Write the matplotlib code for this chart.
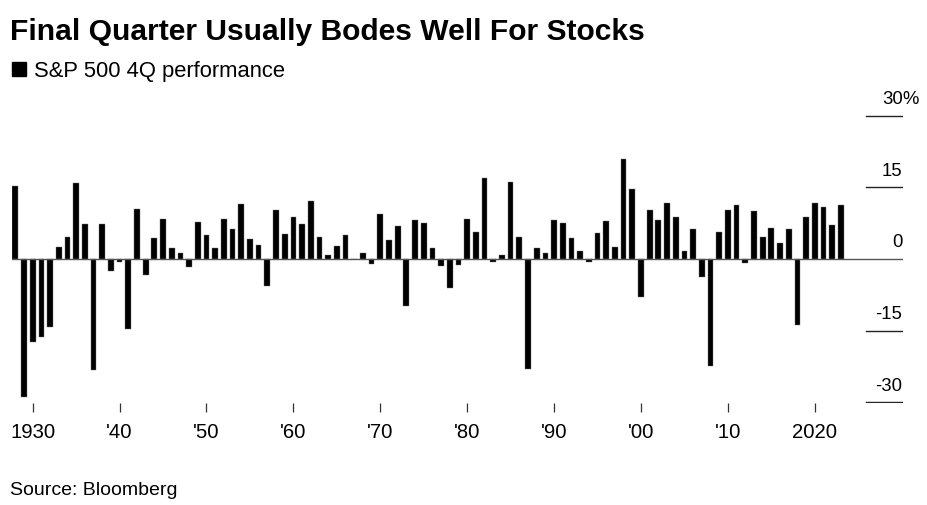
import matplotlib
matplotlib.use("Agg")
import matplotlib.pyplot as plt
import numpy as np

years = list(range(1928, 2024))
perf = [
    15.3, -28.8, -17.4, -16.3, -14.2, 2.6, 4.7, 16.0, 7.4, -23.3,   # 1928-1937
    7.4, -2.6, -0.7, -14.7, 10.5, -3.3, 4.3, 8.3, 2.3, 1.3,        # 1938-1947
    -1.7, 7.8, 5.1, 2.3, 8.3, 6.3, 11.5, 4.2, 3.0, -5.6,           # 1948-1957
    10.3, 5.3, 8.7, 7.3, 12.2, 4.7, 0.8, 2.8, 5.0, 0.1,            # 1958-1967
    1.2, -1.0, 9.5, 4.0, 6.9, -9.9, 8.1, 7.6, 2.3, -1.4,           # 1968-1977
    -6.1, -1.2, 8.3, 5.6, 16.9, -0.6, 0.8, 16.2, 4.7, -23.1,       # 1978-1987
    2.3, 1.3, 8.1, 7.6, 4.4, 1.7, -0.7, 5.5, 7.9, 2.5,             # 1988-1997
    21.0, 14.6, -8.0, 10.3, 8.1, 11.7, 8.8, 1.7, 6.3, -3.8,        # 1998-2007
    -22.4, 5.6, 10.3, 11.2, -0.9, 10.0, 4.5, 6.5, 3.3, 6.2,        # 2008-2017
    -13.8, 8.7, 11.8, 10.8, 7.2, 11.3,                             # 2018-2023
]
xtick_years = [1930, 1940, 1950, 1960, 1970, 1980, 1990, 2000, 2010, 2020]
xtick_labels = ["1930", "'40", "'50", "'60", "'70", "'80", "'90", "'00", "'10", "2020"]
ytick_vals = [30, 15, 0, -15, -30]
ytick_labels = ["30", "15", "0", "-15", "-30"]

plt.rcParams['font.family'] = ['Liberation Sans', 'DejaVu Sans']

W, H = 927, 506
fig = plt.figure(figsize=(W / 100, H / 100), dpi=100)

px_l, px_r, px_t, px_b = 12, 902.5, 100, 403.5
ax = fig.add_axes([px_l / W, 1 - px_b / H, (px_r - px_l) / W, (px_b - px_t) / H])

ppy = 8.69
x0 = 15.3
ax.set_xlim(1928 - (x0 - px_l) / ppy, 1928 + (px_r - x0) / ppy)
ppv = 4.78
zero_px = 260
ax.set_ylim(-(px_b - zero_px) / ppv, (zero_px - px_t) / ppv)

ax.bar(years, perf, width=0.66, color='black', edgecolor='#777777', linewidth=0.3, zorder=3)

for s in ax.spines.values():
    s.set_visible(False)

grid_xmin = (866 - px_l) / (px_r - px_l)
for v, lab in zip(ytick_vals, ytick_labels):
    if v == 0:
        ax.axhline(0, xmin=0, xmax=1, color='#555555', lw=1.0, zorder=4)
    else:
        ax.axhline(v, xmin=grid_xmin, xmax=1, color='#222222', lw=1.0, zorder=4)
    ax.annotate(lab, xy=(1, v), xycoords=('axes fraction', 'data'),
                xytext=(0, 9), textcoords='offset points',
                ha='right', va='baseline', fontsize=13.3, color='black')
    if v == 30:
        ax.annotate("%", xy=(1, v), xycoords=('axes fraction', 'data'),
                    xytext=(0, 9), textcoords='offset points',
                    ha='left', va='baseline', fontsize=13.3, color='black')

ax.set_yticks([])
ax.set_xticks(xtick_years)
ax.set_xticklabels(xtick_labels, fontsize=14.6)
ax.tick_params(axis='x', length=6.8, width=0.9, color='#333333', pad=7.5)

fig.text(10 / W, 1 - 31.5 / H, "Final Quarter Usually Bodes Well For Stocks",
         fontsize=21.6, fontweight='bold', ha='left', va='center', color='black')
fig.patches.append(plt.Rectangle((12 / W, 1 - 76.5 / H), 14 / W, 13.5 / H,
                                 transform=fig.transFigure, color='black'))
fig.text(34 / W, 1 - 71 / H, "S&P 500 4Q performance",
         fontsize=15.8, ha='left', va='center', color='black')
fig.text(10 / W, 1 - 491 / H, "Source: Bloomberg",
         fontsize=14, ha='left', va='center', color='black')

fig.savefig("out.png", dpi=100)
